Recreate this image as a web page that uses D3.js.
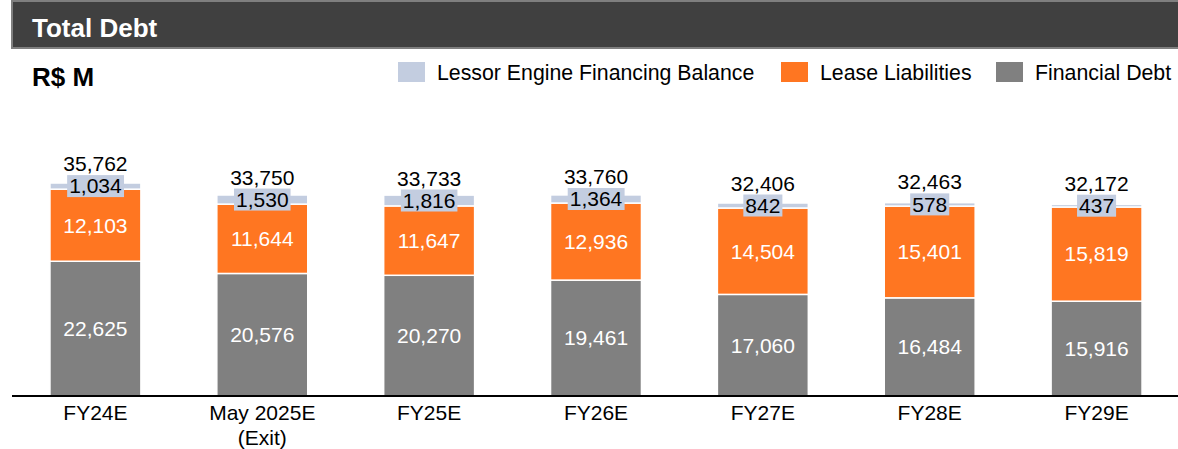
<!DOCTYPE html>
<html>
<head>
<meta charset="utf-8">
<script src="https://cdn.jsdelivr.net/npm/d3@7"></script>
<style>
  html, body { margin: 0; padding: 0; background: #fff; }
  svg { display: block; font-family: "Liberation Sans", Arial, sans-serif; }
</style>
</head>
<body>
<svg id="chart" width="1178" height="449"></svg>
<script>
// Total debt breakdown, R$ millions
const categories = ["FY24E", "May 2025E\n(Exit)", "FY25E", "FY26E", "FY27E", "FY28E", "FY29E"];
const financialDebt = [22625, 20576, 20270, 19461, 17060, 16484, 15916];
const leaseLiabilities = [12103, 11644, 11647, 12936, 14504, 15401, 15819];
const lessorEngine = [1034, 1530, 1816, 1364, 842, 578, 437];
const totals = [35762, 33750, 33733, 33760, 32406, 32463, 32172];

const seriesNames = ["Financial Debt", "Lease Liabilities", "Lessor Engine Financing Balance"];
const legendOrder = ["Lessor Engine Financing Balance", "Lease Liabilities", "Financial Debt"];
const colors = {
  "Financial Debt": "#808080",
  "Lease Liabilities": "#FF7621",
  "Lessor Engine Financing Balance": "#C3CDE0"
};

const svg = d3.select("#chart");
const W = 1178;
const labelSize = 21;

// Header band
svg.append("rect")
  .attr("x", 12).attr("y", 1).attr("width", W).attr("height", 47)
  .attr("fill", "#404040").attr("stroke", "#7f7f7f").attr("stroke-width", 2);
svg.append("text")
  .attr("x", 32).attr("y", 37)
  .attr("fill", "#fff").attr("font-size", 26).attr("font-weight", "bold")
  .text("Total Debt");

svg.append("text")
  .attr("x", 32).attr("y", 86)
  .attr("fill", "#000").attr("font-size", 26).attr("font-weight", "bold")
  .text("R$ M");

// Legend
const legendX = [398, 781, 996];
const legend = svg.append("g");
legendOrder.forEach((name, i) => {
  const g = legend.append("g").attr("transform", `translate(${legendX[i]},62)`);
  g.append("rect").attr("width", 27).attr("height", 20).attr("fill", colors[name]);
  g.append("text").attr("x", 39).attr("y", 18).attr("font-size", 21.3).attr("fill", "#000").text(name);
});

// Scales
const x = d3.scaleBand()
  .domain(categories)
  .range([12, 1180])
  .paddingInner(0.455)
  .paddingOuter(0.2275);
const y = d3.scaleLinear().domain([0, 36000]).range([396, 181.6]);

const rows = categories.map((c, i) => ({
  cat: c,
  "Financial Debt": financialDebt[i],
  "Lease Liabilities": leaseLiabilities[i],
  "Lessor Engine Financing Balance": lessorEngine[i],
  total: totals[i]
}));

const stacked = d3.stack().keys(seriesNames)(rows);

const fmt = d3.format(",");

const layers = svg.append("g").selectAll("g")
  .data(stacked).join("g")
  .attr("fill", d => colors[d.key]);

layers.selectAll("rect")
  .data(d => d.map(p => Object.assign(p, { key: d.key })))
  .join("rect")
  .attr("x", d => x(d.data.cat))
  .attr("width", x.bandwidth())
  .attr("y", d => y(d[1]))
  .attr("height", d => y(d[0]) - y(d[1]))
  .attr("stroke", "#fff")
  .attr("stroke-width", 1.5);

// Axis baseline
svg.append("line")
  .attr("x1", 12).attr("x2", W).attr("y1", 396).attr("y2", 396)
  .attr("stroke", "#000").attr("stroke-width", 2);

// Inside labels (white) for financial debt and lease liabilities
[0, 1].forEach(li => {
  svg.append("g").selectAll("text")
    .data(stacked[li]).join("text")
    .attr("x", d => x(d.data.cat) + x.bandwidth() / 2)
    .attr("y", d => (y(d[0]) + y(d[1])) / 2)
    .attr("dy", "0.35em")
    .attr("text-anchor", "middle")
    .attr("font-size", labelSize)
    .attr("fill", "#fff")
    .text(d => fmt(d[1] - d[0]));
});

// Lessor labels in boxes
const lessorG = svg.append("g").selectAll("g")
  .data(stacked[2]).join("g")
  .attr("transform", d => `translate(${x(d.data.cat) + x.bandwidth() / 2},${(y(d[0]) + y(d[1])) / 2})`);
lessorG.each(function(d) {
  const g = d3.select(this);
  const t = g.append("text")
    .attr("text-anchor", "middle")
    .attr("dy", "0.35em")
    .attr("font-size", labelSize)
    .attr("fill", "#000")
    .text(fmt(d.data["Lessor Engine Financing Balance"]));
  const bb = t.node().getBBox();
  g.insert("rect", "text")
    .attr("x", bb.x - 2).attr("y", -11)
    .attr("width", bb.width + 4).attr("height", 22)
    .attr("fill", colors["Lessor Engine Financing Balance"]);
});

// Totals above bars
svg.append("g").selectAll("text")
  .data(rows).join("text")
  .attr("x", d => x(d.cat) + x.bandwidth() / 2)
  .attr("y", (d, i) => (y(stacked[2][i][0]) + y(stacked[2][i][1])) / 2 - 15)
  .attr("text-anchor", "middle")
  .attr("font-size", labelSize)
  .attr("fill", "#000")
  .text(d => fmt(d.total));

// Category labels
const xl = svg.append("g").selectAll("text")
  .data(categories).join("text")
  .attr("x", d => x(d) + x.bandwidth() / 2)
  .attr("y", 420)
  .attr("text-anchor", "middle")
  .attr("font-size", labelSize)
  .attr("fill", "#000");
xl.each(function(d) {
  const lines = d.split("\n");
  d3.select(this).selectAll("tspan").data(lines).join("tspan")
    .attr("x", x(d) + x.bandwidth() / 2)
    .attr("dy", (l, i) => i === 0 ? 0 : 25)
    .text(l => l);
});
</script>
</body>
</html>
